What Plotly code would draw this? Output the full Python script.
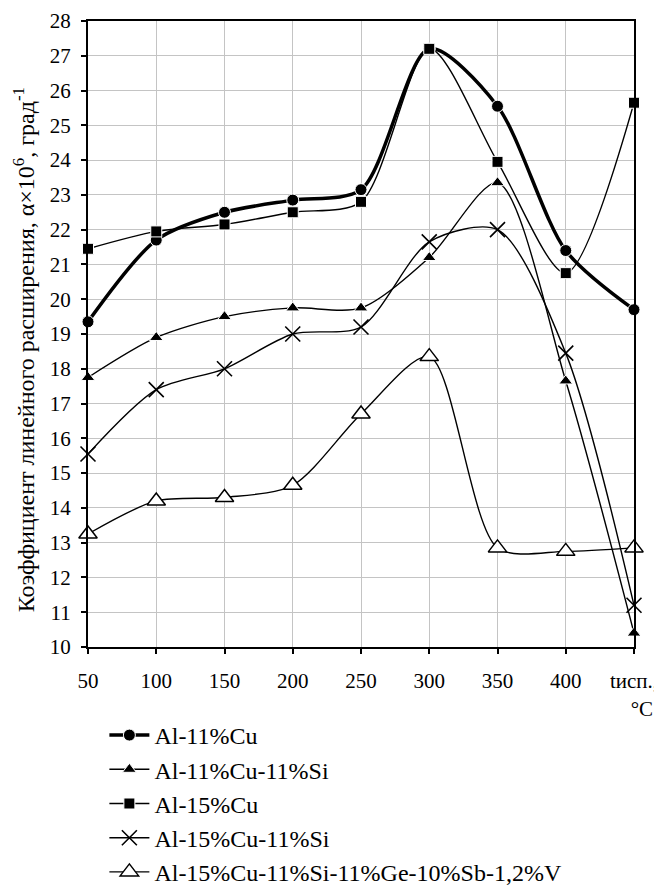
import plotly.graph_objects as go

# test temperatures, the last point is labelled "tисп., °C"
temps = [50, 100, 150, 200, 250, 300, 350, 400, 450]
tick_text = ["50", "100", "150", "200", "250", "300", "350", "400",
             "tисп.,<br>\u00a0\u00a0\u00a0°C"]

al_11cu = [19.35, 21.7, 22.5, 22.85, 23.15, 27.2, 25.55, 21.4, 19.7]
al_11cu_11si = [17.75, 18.9, 19.5, 19.75, 19.75, 21.2, 23.35, 17.65, 10.4]
al_15cu = [21.45, 21.95, 22.15, 22.5, 22.8, 27.2, 23.95, 20.75, 25.65]
al_15cu_11si = [15.55, 17.4, 18.0, 19.0, 19.2, 21.65, 22.0, 18.45, 11.2]
al_complex = [13.25, 14.2, 14.3, 14.65, 16.7, 18.35, 12.85, 12.75, 12.85]

y_title = "Коэффициент линейного расширения, α×10<sup>6</sup>, град<sup>-1</sup>"
font = "Liberation Serif"

# page body has an 8px margin, so the figure is 8px smaller than the window
W, H = 654, 877

series = [
    ("Al-11%Cu", al_11cu, dict(symbol="circle", size=12, color="black",
                               line=dict(color="white", width=1)), 3.5),
    ("Al-11%Cu-11%Si", al_11cu_11si, dict(symbol="triangle-up", size=12, color="black",
                                          line=dict(color="white", width=1)), 1.4),
    ("Al-15%Cu", al_15cu, dict(symbol="square", size=11, color="black",
                               line=dict(color="white", width=1)), 1.4),
    ("Al-15%Cu-11%Si", al_15cu_11si, dict(symbol="x-thin-open", size=15, color="black",
                                          line=dict(color="black", width=1.6)), 1.4),
    ("Al-15%Cu-11%Si-11%Ge-10%Sb-1,2%V", al_complex,
     dict(symbol="triangle-up", size=16, color="white",
          line=dict(color="black", width=1.5)), 1.4),
]

fig = go.Figure()
for i, (name, vals, mk, lw) in enumerate(series):
    fig.add_trace(go.Scatter(
        x=temps, y=vals, name=name, mode="lines+markers", legendgroup=str(i),
        line=dict(color="black", width=lw, shape="spline", smoothing=0.8),
        marker=mk, cliponaxis=False))

fig.update_layout(
    width=W, height=H,
    paper_bgcolor="white", plot_bgcolor="white",
    font=dict(family=font, size=21, color="black"),
    margin=dict(l=80, r=28, t=13, b=238, autoexpand=False),
    showlegend=True,
    legend=dict(x=0.03, y=1 - 705 / H, yref="container", xanchor="left", yanchor="top",
                orientation="v", font=dict(size=24), traceorder="grouped",
                tracegroupgap=0, bgcolor="rgba(0,0,0,0)", itemwidth=40),
)

# axis title placed as rotated text left of the tick labels
fig.add_annotation(text=y_title, textangle=-90, xref="paper", yref="paper",
                   x=-(80 - 16) / 546, y=0.474, xanchor="center", yanchor="middle",
                   showarrow=False, font=dict(size=24))

fig.update_xaxes(
    range=[50, 450], tickvals=temps, ticktext=tick_text,
    showgrid=True, gridcolor="#c4c4c4", gridwidth=1.3,
    showline=True, linecolor="black", linewidth=2, mirror=True,
    ticks="outside", ticklen=5, tickcolor="black", tickwidth=1.5,
    ticklabelstandoff=9, zeroline=False, tickangle=0, automargin=False)

fig.update_yaxes(
    range=[10, 28], dtick=1,
    showgrid=True, gridcolor="#c4c4c4", gridwidth=1.3,
    showline=True, linecolor="black", linewidth=2, mirror=True,
    ticks="outside", ticklen=5, tickcolor="black", tickwidth=1.5,
    ticklabelstandoff=6, zeroline=False, automargin=False)

fig.write_html("out.html")
